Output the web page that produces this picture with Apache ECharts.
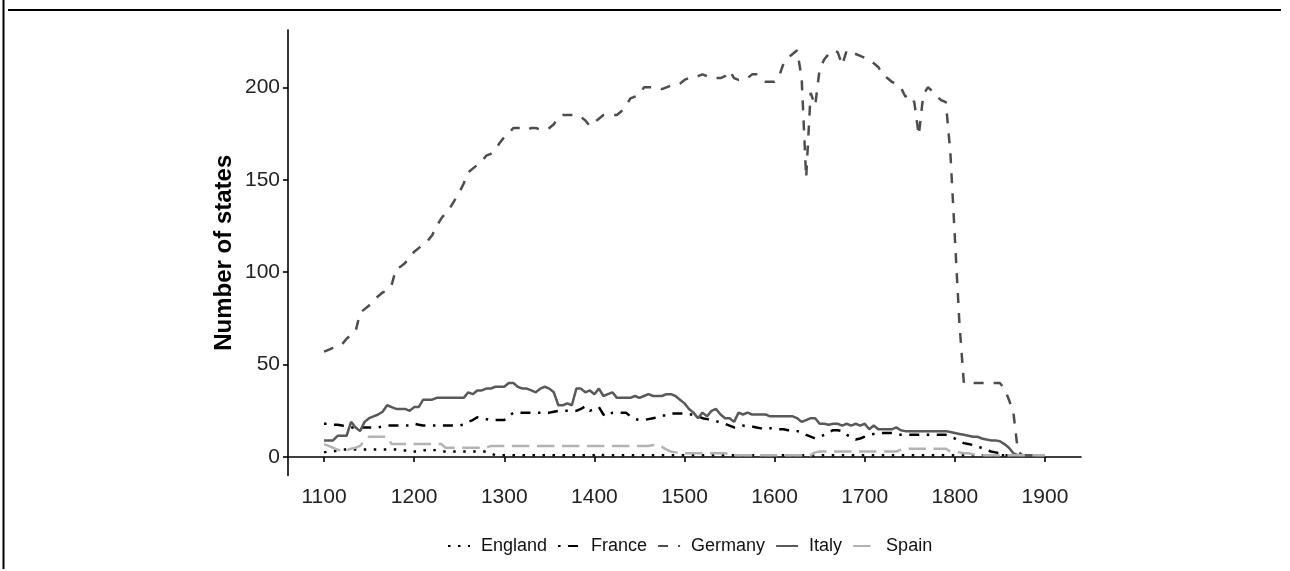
<!DOCTYPE html>
<html>
<head>
<meta charset="utf-8">
<script src="https://cdn.jsdelivr.net/npm/echarts@6/dist/echarts.min.js"></script>
<style>
  html, body { margin: 0; padding: 0; background: #fff; }
  #chart { width: 1290px; height: 571px; }
</style>
</head>
<body>
<div id="chart"></div>
<script>
// sampled every 5 years, 1100..1900
const years = [
  1100, 1105, 1110, 1115, 1120, 1125, 1130, 1135, 1140, 1145,
  1150, 1155, 1160, 1165, 1170, 1175, 1180, 1185, 1190, 1195,
  1200, 1205, 1210, 1215, 1220, 1225, 1230, 1235, 1240, 1245,
  1250, 1255, 1260, 1265, 1270, 1275, 1280, 1285, 1290, 1295,
  1300, 1305, 1310, 1315, 1320, 1325, 1330, 1335, 1340, 1345,
  1350, 1355, 1360, 1365, 1370, 1375, 1380, 1385, 1390, 1395,
  1400, 1405, 1410, 1415, 1420, 1425, 1430, 1435, 1440, 1445,
  1450, 1455, 1460, 1465, 1470, 1475, 1480, 1485, 1490, 1495,
  1500, 1505, 1510, 1515, 1520, 1525, 1530, 1535, 1540, 1545,
  1550, 1555, 1560, 1565, 1570, 1575, 1580, 1585, 1590, 1595,
  1600, 1605, 1610, 1615, 1620, 1625, 1630, 1635, 1640, 1645,
  1650, 1655, 1660, 1665, 1670, 1675, 1680, 1685, 1690, 1695,
  1700, 1705, 1710, 1715, 1720, 1725, 1730, 1735, 1740, 1745,
  1750, 1755, 1760, 1765, 1770, 1775, 1780, 1785, 1790, 1795,
  1800, 1805, 1810, 1815, 1820, 1825, 1830, 1835, 1840, 1845,
  1850, 1855, 1860, 1865, 1870, 1875, 1880, 1885, 1890, 1895,
  1900
]

const england = [
  2.5, 3, 3, 3.5, 4, 4, 4, 4, 4, 4,
  4, 4, 4, 4, 4, 4, 4, 3.5, 3.5, 3.5,
  3, 3, 3.5, 4, 4, 3.5, 3, 3, 3, 3,
  3, 3, 3, 3, 3, 3, 3, 2, 1, 1,
  1, 1, 1, 1, 1, 1, 1, 1, 1, 1,
  1, 1, 1, 1, 1, 1, 1, 1, 1, 1,
  1, 2, 1, 1, 1, 1, 1, 1, 1, 1,
  1, 1, 1, 1, 1, 1, 1, 1, 1, 1,
  1, 1, 1, 1, 1, 1, 1, 1, 1, 1,
  1, 1, 1, 1, 1, 1, 1, 1, 1, 1,
  1, 1, 1, 1, 1, 1, 1, 1, 1, 1,
  1, 1, 1, 1, 1, 1, 1, 1, 1, 1,
  1, 1, 1, 1, 1, 1, 1, 1, 1, 1,
  1, 1, 1, 1, 1, 1, 1, 1, 1, 1,
  1, 1, 1, 1, 1, 1, 1, 1, 1, 1,
  1, 1, 1, 1, 1, 1, 1, 1, 1, 1,
  1
]

const france = [
  18, 18, 17.5, 17.5, 17, 16.5, 16, 16, 16, 16,
  16, 16, 16, 16.5, 17, 17, 17, 17, 17, 17,
  18, 17.5, 17, 17, 17, 17, 17, 17, 17, 17,
  17, 17.5, 19, 20, 21.5, 21, 20.5, 20, 20, 20,
  20, 22, 24, 24, 24, 24, 24, 24, 24, 24,
  24, 24.5, 25, 25, 25, 25, 25, 26, 27.5, 25,
  26, 27, 23, 22, 24, 24, 24, 24, 22, 20.5,
  20, 20, 20.5, 21, 21.5, 22.5, 22.5, 23.5, 23.5, 23.5,
  23.5, 23, 23, 22, 21, 20.5, 20, 19.5, 18.5, 18,
  17, 16, 16, 17, 16.5, 16.5, 16, 15.5, 15, 15.5,
  15.5, 15, 15, 14.5, 14.5, 14, 13.5, 12, 11, 10,
  11, 12, 13.5, 14.5, 14.5, 14, 12, 11, 9.5, 10,
  11, 12, 12.5, 13, 13, 13, 13, 12.5, 12, 12,
  12, 12, 12, 12, 12, 12, 12, 12, 12, 11,
  10, 8.5, 7.5, 7, 6.5, 5.5, 5, 4, 3, 2.5,
  2, 1, 1, 1, 1, 1, 1, 1, 1, 1,
  1
]

const germany = [
  57, 58, 59, 60, 61, 64, 66, 68, 78, 80,
  82, 85, 87, 89, 90, 93, 102, 103, 105, 108,
  111, 113, 115, 117, 120, 125, 129, 132, 135, 139,
  143, 148, 154, 156, 158, 160, 163, 164, 166, 170,
  173, 175, 178, 178, 178, 177, 178, 178, 177, 177,
  178, 180, 184, 185, 185, 185, 185, 184, 182, 179,
  181, 183, 185, 185, 185, 185, 187, 190, 194, 195,
  196, 200, 200, 200, 200, 199, 200, 201, 201, 202,
  204, 205, 205, 206, 207, 206, 205, 205, 205, 206,
  209, 205, 204, 204, 205, 207, 207, 205, 203, 203,
  203, 206, 213, 216, 218, 220, 205, 151, 197, 190,
  210, 215, 218, 220, 219, 212, 220, 219, 218, 217,
  216, 215, 213, 211, 207, 205, 203, 202, 200, 195,
  196, 192, 174, 196, 200, 198, 195, 193, 192, 165,
  119, 73, 40, 40, 40, 40, 40, 40, 40, 40,
  40, 37, 31, 24, 3, 1, 1, 1, 1, 1,
  1
]

const italy = [
  9, 9, 9, 11.5, 11.5, 11.5, 19, 16, 14, 19,
  21, 22, 23, 24.5, 28, 27, 26, 26, 26, 25,
  27, 27, 31, 31, 31, 32, 32, 32, 32, 32,
  32, 32, 35, 34, 36, 36, 37, 37, 38, 38,
  38, 40, 40, 38, 37, 37, 36, 35, 37, 38,
  37, 35, 28, 28, 29, 28, 37, 37, 35, 36,
  34, 37, 33, 34, 35, 32, 32, 32, 32, 33,
  32, 33, 34, 33, 33, 33, 34, 34, 33, 31,
  29, 26, 24, 21, 24, 22, 25, 26, 23, 21,
  21, 19, 24, 23, 24, 23, 23, 23, 23, 22,
  22, 22, 22, 22, 22, 21, 19, 20, 21, 21,
  18, 18, 17.5, 18, 18, 17, 18, 17, 18, 17,
  18, 15, 17, 15, 15, 15, 15, 16, 14.5, 14,
  14, 14, 14, 14, 14, 14, 14, 14, 14, 13.5,
  13, 12.5, 12, 11.5, 11, 11, 10, 9.5, 9, 9,
  8.5, 7, 5, 2, 1, 1, 1, 1, 1, 1,
  1
]

const spain = [
  7, 6, 5, 4, 3, 3.5, 4.5, 5, 6, 9,
  11, 11, 11, 11, 11, 7, 7, 7, 7, 7,
  7, 7, 7, 7, 7, 7, 7, 5, 5, 5,
  5, 5, 5, 5, 5, 5, 5, 6, 6, 6,
  6, 6, 6, 6, 6, 6, 6, 6, 6, 6,
  6, 6, 6, 6, 6, 6, 6, 6, 6, 6,
  6, 6, 6, 6, 6, 6, 6, 6, 6, 6,
  6, 6, 6, 6.5, 6.5, 5.5, 4, 3, 2.5, 2,
  2, 2, 2, 2, 2, 2, 2, 2, 2, 2,
  1.5, 1, 1, 1, 1, 1, 1, 1, 1, 1,
  1, 1, 1, 1, 1, 1, 1, 1, 1, 2.5,
  3, 3, 3, 3, 3, 3, 3, 3, 3, 3,
  3, 3, 3, 3, 3, 3, 3, 3, 4, 4.5,
  4.5, 4.5, 4.5, 4.5, 4.5, 4.5, 4.5, 4.5, 4.5, 3,
  3, 2.5, 2, 2, 1.5, 1, 1, 1, 1, 1,
  1, 1, 1, 1, 1, 1, 1, 1, 1, 1,
  1
]

const xTicks = [1100, 1200, 1300, 1400, 1500, 1600, 1700, 1800, 1900]
const yTicks = [0, 50, 100, 150, 200]

const font = 'Liberation Sans, Arial, sans-serif'
const lw = 2.5

function pairs(values) {
  return years.map((y, i) => [y, values[i]])
}

function makeSeries(name, values, color, dash) {
  return {
    name: name,
    type: 'line',
    data: pairs(values),
    symbol: 'none',
    itemStyle: { color: color },
    lineStyle: { color: color, width: lw, type: dash, cap: 'butt' }
  }
}

const axisLineStyle = { color: '#000', width: 1.6 }

const chart = echarts.init(document.getElementById('chart'))
chart.setOption({
  animation: false,
  backgroundColor: '#fff',
  textStyle: { fontFamily: font },
  graphic: [
    { type: 'line', shape: { x1: 8, y1: 10, x2: 1281, y2: 10 }, style: { stroke: '#000', lineWidth: 2 } },
    { type: 'line', shape: { x1: 3.5, y1: 0, x2: 3.5, y2: 569 }, style: { stroke: '#000', lineWidth: 2 } }
  ],
  grid: { left: 288, right: 209, top: 30, bottom: 95.5, containLabel: false },
  legend: {
    data: ['England', 'France', 'Germany', 'Italy', 'Spain'],
    left: 442,
    top: 532,
    itemWidth: 22,
    itemHeight: 14,
    itemGap: 10,
    itemStyle: { opacity: 0 },
    textStyle: { fontSize: 18, color: '#111', fontFamily: font, padding: [0, 0, 0, 6] }
  },
  xAxis: {
    type: 'value',
    min: 1060,
    max: 1940,
    splitLine: { show: false },
    axisLine: { lineStyle: axisLineStyle },
    axisTick: { length: 5, lineStyle: axisLineStyle, customValues: xTicks },
    axisLabel: {
      customValues: xTicks,
      formatter: (v) => String(v),
      fontSize: 21,
      color: '#222',
      margin: 11,
      fontFamily: font
    }
  },
  yAxis: {
    type: 'value',
    min: -10,
    max: 231,
    name: 'Number of states',
    nameLocation: 'middle',
    nameRotate: 90,
    nameGap: 52,
    nameMoveOverlap: false,
    nameTextStyle: { fontSize: 24, fontWeight: 'bold', color: '#000', fontFamily: font },
    splitLine: { show: false },
    axisLine: { lineStyle: axisLineStyle },
    axisTick: { length: 5, lineStyle: axisLineStyle, customValues: yTicks },
    axisLabel: { customValues: yTicks, fontSize: 21, color: '#222', margin: 8, fontFamily: font }
  },
  series: [
    makeSeries('England', england, '#000000', [2.5, 7.5]),
    makeSeries('France', france, '#000000', [2.5, 7.5, 10, 7.5]),
    makeSeries('Germany', germany, '#4d4d4d', [10, 10]),
    makeSeries('Italy', italy, '#595959', 'solid'),
    makeSeries('Spain', spain, '#b3b3b3', [17.5, 7.5])
  ]
})
</script>
</body>
</html>
